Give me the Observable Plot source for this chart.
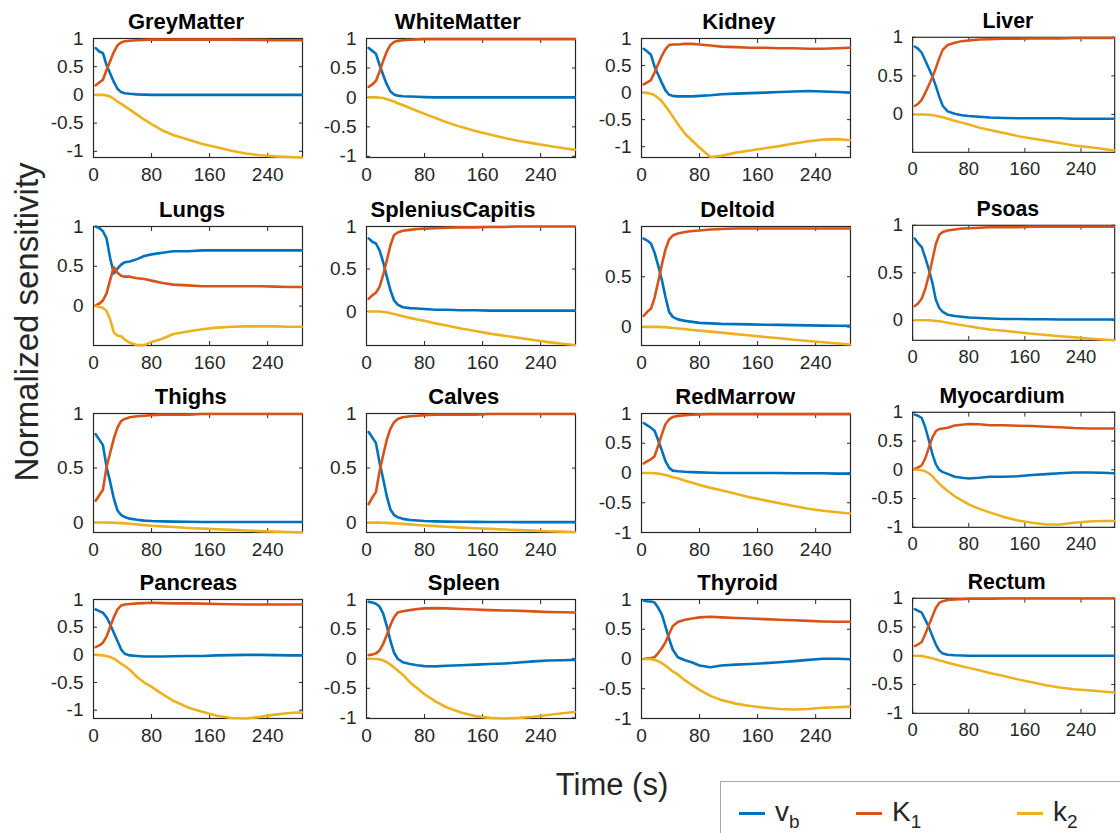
<!DOCTYPE html>
<html><head><meta charset="utf-8">
<script src="https://cdn.jsdelivr.net/npm/d3@7"></script>
<script src="https://cdn.jsdelivr.net/npm/@observablehq/plot@0.6"></script>
<style>
body{margin:0;background:#fff;font-family:"Liberation Sans",Arial,Helvetica,sans-serif;}
#chart{position:relative;width:1120px;height:833px;overflow:hidden;background:#fff;}
.panel{position:absolute;}
.panel svg{overflow:visible;}
#ylab{position:absolute;left:27px;top:322px;transform:translate(-50%,-50%) rotate(-90deg);font-size:33px;color:#262626;white-space:nowrap;}
#xlab{position:absolute;left:612px;top:785px;transform:translate(-50%,-50%);font-size:31px;color:#262626;white-space:nowrap;}
#legend{position:absolute;left:720px;top:781px;width:420px;height:80px;border:1px solid #a6a6a6;background:#fff;}
.lg{position:absolute;top:14px;font-size:28px;color:#262626;white-space:nowrap;}
.lg .sw{display:inline-block;width:26px;height:3px;vertical-align:middle;margin-right:10px;}
.lg sub{font-size:19px;}
</style></head><body><div id="chart"></div>
<script>
const tissues = ["GreyMatter","WhiteMatter","Kidney","Liver","Lungs","SpleniusCapitis","Deltoid","Psoas","Thighs","Calves","RedMarrow","Myocardium","Pancreas","Spleen","Thyroid","Rectum"];
const times = [3,8,13,18,23,28,33,38,43,50,60,70,80,95,110,130,150,170,190,210,230,250,270,287];
const yMin = [-1.11,-1.02,-1.2,-0.49,-0.495,-0.4,-0.185,-0.21,-0.092,-0.09,-1,-1,-1.15,-1.01,-1,-1];
const yMax = 1;
const xDomain = [0,288];
const xTicks = [0,80,160,240];
const yTicks = [-1,-0.5,0,0.5,1];
const seriesNames = ["vb","K1","k2"];
const seriesColors = ["#0072BD","#D95319","#EDB120"];
const legendLabels = ["v<sub>b</sub>","K<sub>1</sub>","k<sub>2</sub>"];
const xLabel = "Time (s)";
const yLabel = "Normalized sensitivity";

const vbSeries = [
 [0.83,0.77,0.74,0.53,0.38,0.23,0.11,0.05,0.03,0.02,0.01,0.005,0,0,0,0,0,0,0,0,0,0,0,0],
 [0.84,0.79,0.74,0.55,0.38,0.22,0.1,0.05,0.03,0.02,0.015,0.01,0.005,0,0,0,0,0,0,0,0,0,0,0],
 [0.81,0.76,0.7,0.48,0.33,0.18,0.04,-0.04,-0.06,-0.07,-0.07,-0.07,-0.06,-0.05,-0.03,-0.02,-0.01,0,0.01,0.02,0.03,0.02,0.01,0],
 [0.88,0.85,0.8,0.7,0.6,0.5,0.37,0.23,0.11,0.04,0.01,-0.01,-0.02,-0.03,-0.04,-0.045,-0.05,-0.05,-0.05,-0.05,-0.055,-0.055,-0.055,-0.055],
 [1.0,0.98,0.94,0.85,0.6,0.41,0.47,0.52,0.55,0.56,0.59,0.63,0.65,0.67,0.69,0.69,0.7,0.7,0.7,0.7,0.7,0.7,0.7,0.7],
 [0.86,0.82,0.8,0.72,0.58,0.41,0.25,0.13,0.08,0.05,0.04,0.035,0.03,0.02,0.02,0.015,0.015,0.01,0.01,0.01,0.01,0.01,0.01,0.01],
 [0.88,0.86,0.83,0.74,0.61,0.47,0.3,0.15,0.1,0.075,0.06,0.05,0.04,0.035,0.03,0.028,0.025,0.022,0.02,0.018,0.015,0.013,0.011,0.01],
 [0.86,0.81,0.77,0.66,0.54,0.4,0.22,0.13,0.09,0.06,0.045,0.038,0.03,0.025,0.02,0.015,0.015,0.012,0.012,0.01,0.01,0.01,0.01,0.01],
 [0.81,0.76,0.71,0.51,0.37,0.22,0.11,0.07,0.05,0.035,0.025,0.017,0.013,0.01,0.008,0.006,0.005,0.005,0.005,0.004,0.004,0.004,0.004,0.004],
 [0.83,0.78,0.73,0.55,0.4,0.24,0.12,0.07,0.05,0.035,0.025,0.02,0.015,0.012,0.01,0.008,0.007,0.006,0.006,0.005,0.005,0.005,0.005,0.005],
 [0.84,0.8,0.76,0.71,0.55,0.38,0.2,0.09,0.04,0.03,0.02,0.015,0.01,0.005,0,0,0,0,0,-0.005,-0.005,-0.005,-0.01,-0.01],
 [0.96,0.94,0.9,0.74,0.52,0.28,0.1,0,-0.04,-0.07,-0.12,-0.14,-0.15,-0.14,-0.12,-0.12,-0.11,-0.09,-0.075,-0.06,-0.045,-0.045,-0.05,-0.06],
 [0.82,0.79,0.76,0.68,0.55,0.4,0.25,0.1,0.02,-0.01,-0.02,-0.03,-0.03,-0.03,-0.025,-0.02,-0.02,-0.01,-0.005,0,0,-0.005,-0.01,-0.01],
 [0.96,0.95,0.93,0.88,0.76,0.55,0.3,0.1,0,-0.06,-0.09,-0.11,-0.125,-0.13,-0.12,-0.11,-0.1,-0.09,-0.08,-0.065,-0.045,-0.03,-0.025,-0.02],
 [0.98,0.97,0.965,0.95,0.86,0.75,0.55,0.34,0.16,0.03,-0.02,-0.06,-0.11,-0.14,-0.11,-0.095,-0.085,-0.07,-0.055,-0.035,-0.015,0.005,0.005,-0.005],
 [0.81,0.78,0.75,0.63,0.5,0.35,0.2,0.09,0.04,0.02,0.01,0.005,0,0,0,0,0,0,0,0,0,0,0,0]
];
const K1Series = [
 [0.17,0.22,0.27,0.44,0.6,0.76,0.88,0.93,0.95,0.96,0.97,0.975,0.98,0.98,0.98,0.98,0.98,0.98,0.98,0.975,0.975,0.97,0.97,0.97],
 [0.18,0.22,0.28,0.44,0.62,0.78,0.89,0.94,0.96,0.97,0.98,0.985,0.99,0.99,0.99,0.99,0.99,0.99,0.99,0.99,0.99,0.99,0.99,0.99],
 [0.15,0.19,0.23,0.37,0.53,0.68,0.8,0.88,0.89,0.89,0.9,0.9,0.89,0.87,0.85,0.84,0.83,0.83,0.82,0.82,0.81,0.81,0.82,0.83],
 [0.11,0.14,0.19,0.28,0.38,0.48,0.6,0.73,0.84,0.9,0.93,0.95,0.96,0.97,0.975,0.98,0.98,0.985,0.985,0.985,0.99,0.99,0.99,0.99],
 [0.01,0.03,0.07,0.16,0.33,0.49,0.42,0.38,0.37,0.37,0.35,0.34,0.32,0.29,0.27,0.26,0.25,0.25,0.25,0.25,0.25,0.245,0.24,0.24],
 [0.15,0.19,0.22,0.29,0.43,0.6,0.78,0.9,0.93,0.95,0.96,0.97,0.975,0.98,0.985,0.99,0.99,0.995,0.995,1,1,1,1,1],
 [0.11,0.15,0.18,0.29,0.45,0.62,0.77,0.87,0.91,0.93,0.945,0.955,0.96,0.97,0.975,0.98,0.98,0.98,0.98,0.98,0.98,0.98,0.98,0.98],
 [0.15,0.18,0.23,0.33,0.47,0.63,0.8,0.9,0.93,0.945,0.955,0.965,0.97,0.975,0.98,0.98,0.98,0.985,0.985,0.985,0.985,0.985,0.985,0.985],
 [0.2,0.25,0.3,0.51,0.64,0.77,0.87,0.93,0.95,0.965,0.975,0.98,0.985,0.99,0.99,0.99,0.995,0.995,0.995,0.995,0.995,0.995,0.995,0.995],
 [0.17,0.23,0.28,0.47,0.62,0.76,0.86,0.92,0.95,0.965,0.975,0.98,0.985,0.99,0.99,0.99,0.99,0.995,0.995,0.995,0.995,0.995,0.995,0.995],
 [0.16,0.2,0.23,0.28,0.46,0.65,0.82,0.9,0.94,0.96,0.97,0.98,0.985,0.99,0.99,0.99,0.99,0.99,0.99,0.99,0.99,0.99,0.99,0.99],
 [0.02,0.04,0.08,0.2,0.38,0.56,0.67,0.71,0.72,0.73,0.77,0.785,0.795,0.79,0.775,0.775,0.765,0.76,0.75,0.74,0.725,0.72,0.72,0.72],
 [0.14,0.17,0.22,0.33,0.51,0.68,0.82,0.89,0.91,0.92,0.93,0.935,0.94,0.935,0.93,0.93,0.925,0.92,0.915,0.91,0.91,0.91,0.91,0.91],
 [0.06,0.07,0.09,0.14,0.25,0.4,0.57,0.7,0.78,0.8,0.82,0.84,0.85,0.855,0.85,0.84,0.83,0.82,0.815,0.81,0.8,0.79,0.785,0.78],
 [0,0.01,0.015,0.03,0.1,0.18,0.28,0.42,0.55,0.62,0.66,0.68,0.7,0.71,0.7,0.69,0.68,0.67,0.66,0.65,0.64,0.63,0.625,0.625],
 [0.17,0.2,0.24,0.38,0.53,0.68,0.83,0.92,0.95,0.97,0.98,0.985,0.99,0.99,0.99,0.995,0.995,0.995,0.995,0.995,0.995,0.995,0.995,0.995]
];
const k2Series = [
 [0,0,0,-0.01,-0.03,-0.07,-0.12,-0.16,-0.2,-0.26,-0.35,-0.44,-0.52,-0.63,-0.71,-0.79,-0.87,-0.93,-0.99,-1.04,-1.07,-1.09,-1.1,-1.11],
 [0,0,0,-0.005,-0.01,-0.03,-0.05,-0.07,-0.1,-0.13,-0.18,-0.23,-0.28,-0.35,-0.42,-0.5,-0.57,-0.63,-0.69,-0.74,-0.78,-0.82,-0.86,-0.89],
 [0,-0.005,-0.02,-0.05,-0.1,-0.16,-0.25,-0.34,-0.44,-0.58,-0.76,-0.89,-1.02,-1.19,-1.17,-1.11,-1.07,-1.03,-0.99,-0.94,-0.9,-0.87,-0.86,-0.88],
 [0,0,0,0,-0.003,-0.008,-0.015,-0.025,-0.035,-0.055,-0.08,-0.105,-0.13,-0.17,-0.2,-0.24,-0.28,-0.31,-0.34,-0.37,-0.4,-0.42,-0.445,-0.465],
 [0,-0.01,-0.02,-0.06,-0.17,-0.33,-0.37,-0.38,-0.42,-0.46,-0.49,-0.49,-0.45,-0.41,-0.35,-0.32,-0.29,-0.27,-0.26,-0.255,-0.255,-0.255,-0.26,-0.26],
 [0,0,0,0,-0.005,-0.01,-0.02,-0.03,-0.04,-0.055,-0.075,-0.095,-0.11,-0.14,-0.165,-0.2,-0.23,-0.26,-0.285,-0.31,-0.335,-0.36,-0.38,-0.395],
 [0,0,0,0,0,-0.002,-0.004,-0.007,-0.01,-0.015,-0.022,-0.03,-0.037,-0.047,-0.057,-0.072,-0.085,-0.1,-0.113,-0.127,-0.14,-0.153,-0.165,-0.175],
 [0,0,0,0,0,-0.002,-0.006,-0.01,-0.015,-0.025,-0.038,-0.05,-0.062,-0.08,-0.095,-0.11,-0.125,-0.14,-0.153,-0.166,-0.178,-0.19,-0.2,-0.208],
 [0,0,0,0,-0.001,-0.003,-0.004,-0.006,-0.008,-0.012,-0.018,-0.024,-0.03,-0.036,-0.042,-0.05,-0.056,-0.062,-0.068,-0.074,-0.079,-0.084,-0.088,-0.092],
 [0,0,0,0,-0.001,-0.002,-0.004,-0.006,-0.008,-0.011,-0.016,-0.021,-0.026,-0.032,-0.038,-0.045,-0.051,-0.057,-0.063,-0.068,-0.073,-0.078,-0.082,-0.086],
 [0,0,0,-0.005,-0.01,-0.02,-0.035,-0.05,-0.07,-0.09,-0.13,-0.165,-0.2,-0.25,-0.29,-0.35,-0.41,-0.46,-0.51,-0.555,-0.6,-0.635,-0.66,-0.68],
 [0,0,-0.01,-0.025,-0.06,-0.11,-0.18,-0.24,-0.3,-0.37,-0.46,-0.53,-0.6,-0.68,-0.74,-0.82,-0.88,-0.92,-0.95,-0.95,-0.92,-0.9,-0.89,-0.89],
 [0,-0.005,-0.01,-0.02,-0.04,-0.07,-0.11,-0.16,-0.2,-0.27,-0.4,-0.5,-0.58,-0.71,-0.83,-0.95,-1.03,-1.1,-1.14,-1.15,-1.12,-1.08,-1.05,-1.04],
 [0,0,-0.005,-0.01,-0.03,-0.06,-0.1,-0.15,-0.2,-0.27,-0.4,-0.5,-0.6,-0.72,-0.82,-0.91,-0.97,-1.0,-1.01,-1.0,-0.98,-0.95,-0.92,-0.9],
 [0,0,-0.005,-0.015,-0.035,-0.07,-0.11,-0.16,-0.21,-0.26,-0.36,-0.44,-0.52,-0.62,-0.69,-0.75,-0.79,-0.82,-0.84,-0.85,-0.84,-0.82,-0.81,-0.8],
 [0,0,-0.005,-0.015,-0.03,-0.045,-0.06,-0.08,-0.095,-0.12,-0.15,-0.18,-0.21,-0.25,-0.3,-0.35,-0.41,-0.46,-0.51,-0.55,-0.58,-0.6,-0.62,-0.64]
];

const chart = document.getElementById("chart");
const colLeft = [93,366,641,914];
const rowTop = [38,226,413,599];
const W = 209, H = 119, mL = 56, mR = 6, mT = 36, mB = 34;
const FONT = '"Liberation Sans", Arial, Helvetica, sans-serif';
const allSeries = [vbSeries, K1Series, k2Series];

tissues.forEach((name, i) => {
  const c = i % 4, r = Math.floor(i / 4);
  const data = [];
  allSeries.forEach((S, s) => times.forEach((t, j) => data.push({t, v: S[i][j], s: seriesNames[s]})));
  const yt = yTicks.filter(v => v >= yMin[i] - 1e-9 && v <= yMax + 1e-9);
  const svg = Plot.plot({
    width: W + mL + mR, height: H + mT + mB,
    marginLeft: mL, marginRight: mR, marginTop: mT, marginBottom: mB,
    style: {background: "transparent", overflow: "visible", fontFamily: FONT, fontSize: "19px", color: "#262626"},
    x: {domain: xDomain},
    y: {domain: [yMin[i], yMax]},
    color: {domain: seriesNames, range: seriesColors},
    marks: [
      Plot.frame({stroke: "#262626", strokeWidth: 1.2}),
      Plot.axisX(xTicks, {anchor: "bottom", tickSize: 0, tickPadding: 10, fontSize: 19, label: null, tickFormat: d => String(d)}),
      Plot.axisX(xTicks, {anchor: "bottom", tickSize: 4, dy: -4, tickFormat: () => "", label: null}),
      Plot.axisX(xTicks, {anchor: "top", tickSize: 4, dy: 4, tickFormat: () => "", label: null}),
      Plot.axisY(yt, {anchor: "left", tickSize: 0, tickPadding: 10, fontSize: 19, label: null, tickFormat: d => String(d)}),
      Plot.axisY(yt, {anchor: "left", tickSize: 4, dx: 4, tickFormat: () => "", label: null}),
      Plot.axisY(yt, {anchor: "right", tickSize: 4, dx: -4, tickFormat: () => "", label: null}),
      Plot.line(data, {x: "t", y: "v", z: "s", stroke: "s", strokeWidth: 2.6, curve: "linear"}),
      Plot.text([name], {frameAnchor: "top", dy: -10, dx: -1.2 * name.length, lineAnchor: "bottom", fontWeight: "bold", fontSize: 22, fill: "#000"})
    ]
  });
  const div = document.createElement("div");
  div.className = "panel";
  div.style.left = (colLeft[c] - mL) + "px";
  div.style.top = (rowTop[r] - mT) + "px";
  div.appendChild(svg);
  chart.appendChild(div);
});

const yl = document.createElement("div"); yl.id = "ylab"; yl.textContent = yLabel; chart.appendChild(yl);
const xl = document.createElement("div"); xl.id = "xlab"; xl.textContent = xLabel; chart.appendChild(xl);
const lg = document.createElement("div"); lg.id = "legend";
const lgX = [18, 135, 296];
seriesNames.forEach((s, k) => {
  const e = document.createElement("div");
  e.className = "lg";
  e.style.left = lgX[k] + "px";
  e.innerHTML = `<span class="sw" style="background:${seriesColors[k]}"></span>${legendLabels[k]}`;
  lg.appendChild(e);
});
chart.appendChild(lg);
</script>
</body></html>
